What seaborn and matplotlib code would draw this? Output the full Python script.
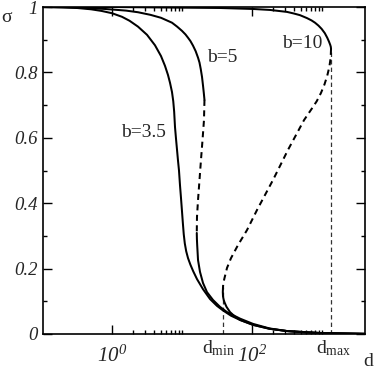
import numpy as np
import pandas as pd
import matplotlib
matplotlib.use("Agg")
import matplotlib.pyplot as plt
import seaborn as sns
from matplotlib.ticker import FixedLocator, FixedFormatter

# ---- data (log10 d, sigma) ----
b35_logd = [-0.986, -0.7, -0.5, -0.3, -0.15, 0.0, 0.143, 0.25, 0.371, 0.5, 0.614, 0.7, 0.757, 0.8,
            0.829, 0.857, 0.875, 0.888, 0.9, 0.914, 0.929, 0.943, 0.957, 0.971, 0.986, 1.0, 1.012,
            1.025, 1.04, 1.06, 1.086, 1.12, 1.16, 1.214, 1.3, 1.4, 1.5, 1.586, 1.7, 1.829, 2.014,
            2.25, 2.5, 2.75, 2.971, 3.62]
b35_sig = [1.0, 0.999, 0.997, 0.993, 0.988, 0.981, 0.97, 0.958, 0.94, 0.915, 0.883, 0.85, 0.82, 0.792,
           0.768, 0.74, 0.712, 0.68, 0.633, 0.598, 0.563, 0.53, 0.5, 0.456, 0.415, 0.375, 0.34,
           0.305, 0.277, 0.253, 0.232, 0.212, 0.192, 0.168, 0.137, 0.107, 0.086, 0.072, 0.056, 0.043,
           0.028, 0.016, 0.009, 0.005, 0.003, 0.0005]

b5_up_logd = [-0.986, -0.5, -0.1, 0.2, 0.371, 0.55, 0.7, 0.857, 0.93, 1.0, 1.05, 1.086, 1.12, 1.157,
              1.195, 1.229, 1.25, 1.268, 1.286, 1.3, 1.311, 1.321]
b5_up_sig = [1.0, 0.998, 0.994, 0.989, 0.984, 0.976, 0.967, 0.952, 0.94, 0.927, 0.916, 0.906, 0.896,
             0.882, 0.865, 0.845, 0.83, 0.81, 0.786, 0.76, 0.738, 0.716]
b5_mid_logd = [1.321, 1.314, 1.293, 1.271, 1.25, 1.229, 1.214, 1.211]
b5_mid_sig = [0.716, 0.654, 0.593, 0.532, 0.471, 0.410, 0.358, 0.309]
b5_low_logd = [1.211, 1.213, 1.217, 1.229, 1.257, 1.3, 1.357, 1.443, 1.543, 1.643, 1.829, 2.014,
               2.25, 2.5, 2.971, 3.62]
b5_low_sig = [0.309, 0.29, 0.272, 0.226, 0.190, 0.156, 0.128, 0.104, 0.083, 0.067, 0.047, 0.031,
              0.017, 0.009, 0.003, 0.0005]

b10_up_logd = [-0.986, 0.0, 1.0, 1.543, 2.014, 2.257, 2.5, 2.6, 2.686, 2.786, 2.85, 2.9, 2.95, 2.995,
               3.04, 3.075, 3.1, 3.118, 3.126, 3.129]
b10_up_sig = [1.0, 1.0, 0.998, 0.997, 0.994, 0.991, 0.985, 0.98, 0.975, 0.966, 0.959, 0.952, 0.943,
              0.933, 0.92, 0.906, 0.894, 0.884, 0.878, 0.872]
b10_mid_logd = [3.129, 3.124, 3.105, 3.075, 3.035, 2.985, 2.925, 2.857, 2.743, 2.514, 2.3, 2.071,
                1.929, 1.8, 1.7, 1.643, 1.607, 1.59, 1.586]
b10_mid_sig = [0.872, 0.845, 0.817, 0.79, 0.763, 0.737, 0.712, 0.69, 0.654, 0.563, 0.471, 0.379,
               0.318, 0.272, 0.232, 0.202, 0.171, 0.155, 0.144]
b10_low_logd = [1.586, 1.583, 1.586, 1.595, 1.607, 1.636, 1.686, 1.757, 1.829, 2.014, 2.25, 2.5,
                2.971, 3.62]
b10_low_sig = [0.144, 0.128, 0.115, 0.105, 0.097, 0.083, 0.067, 0.053, 0.043, 0.028, 0.016, 0.009,
               0.003, 0.0005]

d_min_log = 1.586
d_min_sig = 0.144
d_max_log = 3.129
d_max_sig = 0.872

labels = ["b=3.5", "b=5", "b=10"]
label_logd = [0.443, 1.571, 2.714]
label_sig = [0.615, 0.847, 0.887]

xtick_major_log = [0, 2]
xtick_labels = [r"$10^{0}$", r"$10^{2}$"]
ytick_major = [0, 0.2, 0.4, 0.6, 0.8, 1.0]
ytick_labels = ["0", "0.2", "0.4", "0.6", "0.8", "1"]

# ---- style ----
sns.set_style("ticks")
plt.rcParams["font.family"] = ["Liberation Serif", "DejaVu Serif"]
plt.rcParams["mathtext.fontset"] = "custom"
plt.rcParams["mathtext.rm"] = "Liberation Serif:italic"
plt.rcParams["mathtext.it"] = "Liberation Serif:italic"
plt.rcParams["mathtext.sf"] = "Liberation Serif"

fig = plt.figure(figsize=(3.74, 3.69), dpi=100)
ax = fig.add_axes([43 / 374, 1 - 334 / 369, (365 - 43) / 374, (334 - 7) / 369])

common = dict(color="black", lw=1.45, estimator=None, sort=False, ax=ax, legend=False)
dashed_ls = (0, (3.0, 2.2))


def branch(logd, sig, ls="-"):
    df = pd.DataFrame({"d": 10 ** np.asarray(logd), "sigma": sig})
    sns.lineplot(data=df, x="d", y="sigma", linestyle=ls, **common)


branch(b35_logd, b35_sig)
branch(b5_up_logd, b5_up_sig)
branch(b5_mid_logd, b5_mid_sig, dashed_ls)
branch(b5_low_logd, b5_low_sig)
branch(b10_up_logd, b10_up_sig)
branch(b10_mid_logd, b10_mid_sig, dashed_ls)
branch(b10_low_logd, b10_low_sig)

# vertical d_min / d_max markers
for lg, s in [(d_min_log, d_min_sig), (d_max_log, d_max_sig)]:
    ax.plot([10 ** lg, 10 ** lg], [0, s], color="#333333", lw=0.9, linestyle=(0, (3.5, 2.5)), zorder=1)

ax.set_xscale("log")
ax.set_xlim(10 ** ((43 - 112) / 70), 10 ** ((365 - 112) / 70))
ax.set_ylim(0, 1)

ax.xaxis.set_major_locator(FixedLocator([10.0 ** v for v in xtick_major_log]))
ax.xaxis.set_major_formatter(FixedFormatter(xtick_labels))
minors = [k * 10.0 ** e for e in (0, 2) for k in range(2, 11)]
ax.xaxis.set_minor_locator(FixedLocator(minors))
ax.xaxis.set_minor_formatter(FixedFormatter([""] * len(minors)))
ax.yaxis.set_major_locator(FixedLocator(ytick_major))
ax.yaxis.set_major_formatter(FixedFormatter(ytick_labels))
ax.yaxis.set_minor_locator(FixedLocator([0.1, 0.3, 0.5, 0.7, 0.9]))

ax.tick_params(which="both", direction="in", top=True, right=True, width=1.0, color="black")
ax.tick_params(which="major", length=6.5)
ax.tick_params(which="minor", length=3)
ax.tick_params(axis="y", which="major", pad=4, labelsize=13.5)
ax.tick_params(axis="x", which="major", pad=8, labelsize=15)
for lab in ax.get_yticklabels():
    lab.set_fontstyle("italic")
for sp in ax.spines.values():
    sp.set_linewidth(1.2)
    sp.set_color("black")
ax.set_xlabel("")
ax.set_ylabel("")

for t, lg, s in zip(labels, label_logd, label_sig):
    ax.text(10 ** lg, s, t, fontsize=14, ha="center", va="center")

ax.annotate(r"d$_{\mathsf{min}}$", xy=(10 ** d_min_log, -0.058), xycoords=("data", "axes fraction"),
            xytext=(-3, 0), textcoords="offset points", ha="center", va="baseline", fontsize=14)
ax.annotate(r"d$_{\mathsf{max}}$", xy=(10 ** d_max_log, -0.058), xycoords=("data", "axes fraction"),
            xytext=(1.5, 0), textcoords="offset points", ha="center", va="baseline", fontsize=14)

fig.text(7 / 374, 1 - 18 / 369, "σ", fontsize=14, ha="center", va="center")
fig.text(368 / 374, 1 - 361 / 369, "d", fontsize=14, ha="center", va="center")

fig.savefig("out.png", dpi=100)
